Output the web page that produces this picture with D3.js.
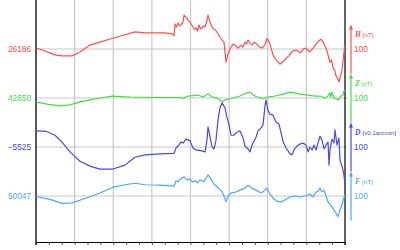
<!DOCTYPE html>
<html><head><meta charset="utf-8">
<script src="https://cdn.jsdelivr.net/npm/d3@7"></script>
<style>body{margin:0;background:#fff;} svg{display:block;}</style>
</head><body><svg id="c" width="400" height="250"></svg>
<script>
// ---- data ----
const seriesNames = ["H", "Z", "D", "F"];
const seriesUnits = ["[nT]", "[nT]", "[x0.1arcmin]", "[nT]"];
const baselines = [26186, 42650, -5525, 50047];
const scaleBarValue = 100;
const hourTicks = d3.range(0, 25);
const gridHours = [3, 6, 9, 12, 15, 18, 21];

const hHours = [0,0.70,1.48,2.02,2.80,3.42,4.19,4.97,5.98,6.91,7.69,8.47,9.01,10.02,10.56,10.72,10.80,10.92,11.03,11.18,11.30,11.42,11.50,11.73,11.85,11.96,12.08,12.19,12.31,12.43,12.55,12.66,12.78,12.89,13.01,13.13,13.25,13.36,13.51,13.67,13.80,13.90,14.06,14.18,14.29,14.45,14.60,14.76,14.91,15.15,15.30,15.46,15.69,15.92,16.08,16.23,16.35,16.47,16.62,16.78,16.95,17.17,17.35,17.55,17.79,17.94,18.17,18.41,18.64,18.95,19.26,19.45,19.65,19.80,19.96,20.15,20.35,20.55,20.74,20.95,21.10,21.28,21.45,21.59,21.75,21.90,22.02,22.14,22.29,22.40,22.52,22.68,22.83,22.95,23.07,23.20,23.30,23.42,23.53,23.77,23.92,24.0];
const hValues = [2,-4,-12,-14,-14,-6,8,14,22,29,35,33,33,33,31,27,51,45,53,47,51,55,69,63,57,55,50,45,40,43,37,49,41,43,47,45,55,69,55,45,41,39,35,29,24,18,14,-27,-10,4,10,8,2,8,4,14,10,18,12,8,14,10,4,2,8,22,10,-12,-22,-31,-24,-18,-14,-8,-4,-2,-4,-8,0,2,-2,-6,0,4,10,14,18,20,14,8,2,-12,-27,-22,-39,-43,-55,-59,-67,-43,-6,8];

const zHours = [0,0.93,1.86,2.64,3.42,4.19,4.97,5.90,7.30,9.01,10.41,11.18,11.42,11.81,12.19,12.58,12.97,13.36,13.67,14.06,14.29,14.45,14.68,15.22,15.84,16.23,16.62,16.85,17.17,17.63,18.02,18.56,19.18,19.73,20.50,21.13,21.67,22.06,22.45,22.68,22.83,22.91,22.99,23.15,23.30,23.46,23.61,23.69,23.84,23.92,24.0];
const zValues = [-8,-13,-16,-14,-8,-4,0,4,2,1,1,1,-1,4,5,6,2,8,2,0,-4,-8,-4,-1,4,9,12,6,2,-1,2,4,8,12,8,6,4,4,0,4,10,2,12,0,-2,-4,0,4,6,14,16];

const dHours = [0,0.78,1.48,2.02,2.64,3.42,4.19,4.97,5.98,6.91,7.69,8.47,9.63,10.72,10.87,11.03,11.26,11.42,11.65,11.96,12.19,12.43,12.89,13.13,13.28,13.36,13.51,13.67,13.83,13.98,14.14,14.29,14.45,14.68,14.83,14.99,15.15,15.38,15.53,15.84,16.08,16.23,16.47,16.62,16.78,17.09,17.24,17.48,17.63,17.79,17.86,18.02,18.17,18.41,18.64,18.87,19.18,19.42,19.73,19.88,20.04,20.27,20.50,20.74,20.97,21.13,21.28,21.44,21.59,21.75,21.90,22.06,22.21,22.37,22.52,22.68,22.76,22.83,22.99,23.15,23.22,23.38,23.53,23.61,23.77,23.92,24.0];
const dValues = [33,32,24,10,-10,-29,-39,-45,-45,-37,-21,-16,-14,-13,-2,2,10,8,16,13,-2,-6,-8,-10,14,41,22,0,-4,14,55,80,90,80,61,45,24,24,29,33,19,2,-4,-10,4,20,33,39,45,84,96,75,67,65,51,47,12,-2,-14,-16,-6,2,6,8,4,-10,0,-6,4,-6,8,22,14,-4,4,10,-37,-6,16,8,35,4,18,-27,-39,-57,-78];

const fHours = [0,1.09,2.02,2.80,3.81,4.97,5.98,6.91,7.69,8.47,9.63,10.72,10.87,11.03,11.18,11.50,11.73,11.96,12.15,12.35,12.55,12.74,13.05,13.36,13.59,13.83,14.14,14.45,14.60,14.76,14.91,15.22,15.53,15.84,16.23,16.47,16.78,17.09,17.48,17.71,17.94,18.17,18.41,18.72,19.03,19.34,19.73,20.12,20.50,20.89,21.10,21.28,21.51,21.75,21.90,22.06,22.21,22.37,22.52,22.68,22.99,23.30,23.46,23.61,23.77,23.92,24.0];
const fValues = [-1,-7,-15,-14,-5,6,18,23,26,23,22,20,31,29,34,39,33,35,29,31,27,33,29,43,35,24,17,9,0,-12,0,7,8,12,16,22,16,12,6,10,16,4,-4,-11,-12,-8,-2,0,-2,0,2,4,-2,8,10,16,8,12,0,-12,-22,-35,-42,-29,-18,-4,2];

const colors = ["#ff4d4d", "#40e040", "#4848e8", "#4ca6ff"];

// ---- chart ----
const svg = d3.select("#c");
const plotLeft = 36, plotRight = 345, plotTop = 0, plotBottom = 242;
const x = d3.scaleLinear().domain([0, 24]).range([plotLeft, plotRight]);
const y = d3.scaleLinear().domain([0, 500]).range([245, 0]);
const level = i => (seriesNames.length - i) * 100;

const series = [
  {hours: hHours, values: hValues},
  {hours: zHours, values: zValues},
  {hours: dHours, values: dValues},
  {hours: fHours, values: fValues}
];

// vertical grid
svg.append("g").selectAll("line").data(gridHours).join("line")
  .attr("x1", d => x(d)).attr("x2", d => x(d))
  .attr("y1", plotTop).attr("y2", plotBottom)
  .attr("stroke", "#c8c8c8").attr("stroke-width", 1.2);

// horizontal baselines
svg.append("g").selectAll("line").data(seriesNames).join("line")
  .attr("x1", plotLeft).attr("x2", plotRight + 3)
  .attr("y1", (d, i) => y(level(i))).attr("y2", (d, i) => y(level(i)))
  .attr("stroke", "#c8c8c8").attr("stroke-width", 1.2);

// bottom axis
const ax = svg.append("g").attr("transform", `translate(0,${plotBottom})`)
  .call(d3.axisBottom(x).tickValues(hourTicks).tickSize(3).tickSizeOuter(0).tickFormat(""));
ax.select(".domain").attr("stroke", "#000").attr("stroke-width", 1.2);
ax.selectAll(".tick line").attr("stroke", "#333").attr("stroke-width", 0.8);

// left & right frame
svg.append("line").attr("x1", plotLeft).attr("x2", plotLeft).attr("y1", plotTop).attr("y2", plotBottom + 3)
  .attr("stroke", "#111").attr("stroke-width", 1.4);
svg.append("line").attr("x1", plotRight).attr("x2", plotRight).attr("y1", plotTop).attr("y2", plotBottom + 3)
  .attr("stroke", "#222").attr("stroke-width", 1.4);

// lines
const fmt = d3.format("d");
series.forEach((s, i) => {
  const pts = s.hours.map((h, k) => [h, s.values[k]]);
  const line = d3.line().x(d => x(d[0])).y(d => y(level(i) + d[1]));
  svg.append("path").datum(pts).attr("d", line)
    .attr("fill", "none").attr("stroke", colors[i]).attr("stroke-width", 1.2)
    .attr("stroke-linejoin", "round");

  // left baseline label
  svg.append("text").attr("x", plotLeft - 5).attr("y", y(level(i)) + 3)
    .attr("text-anchor", "end").attr("font-family", "Liberation Sans, Arial, sans-serif")
    .attr("font-size", 8.3).attr("fill", colors[i]).text(fmt(baselines[i]));

  // scale arrow
  const ax0 = plotRight + 6;
  const yTop = y(level(i) + scaleBarValue / 2), yBot = y(level(i) - scaleBarValue / 2);
  svg.append("line").attr("x1", ax0).attr("x2", ax0).attr("y1", yTop + 3).attr("y2", yBot)
    .attr("stroke", colors[i]).attr("stroke-width", 1.2);
  svg.append("path").attr("d", `M${ax0},${yTop} L${ax0 - 2},${yTop + 5} L${ax0 + 2},${yTop + 5} Z`)
    .attr("fill", colors[i]);

  const t = svg.append("text").attr("x", ax0 + 4).attr("y", y(level(i)) - 12.5).attr("fill", colors[i]);
  t.append("tspan").attr("font-family", "Liberation Serif, serif").attr("font-style", "italic")
    .attr("font-weight", "bold").attr("font-size", 7.5).text(seriesNames[i]);
  t.append("tspan").attr("font-family", "Liberation Sans, Arial, sans-serif")
    .attr("font-size", 6.2).attr("dx", 2).text(seriesUnits[i]);

  svg.append("text").attr("x", ax0 + 3).attr("y", y(level(i)) + 3)
    .attr("font-family", "Liberation Sans, Arial, sans-serif").attr("font-size", 8.3)
    .attr("fill", colors[i]).text(scaleBarValue);
});
</script>
</body></html>
